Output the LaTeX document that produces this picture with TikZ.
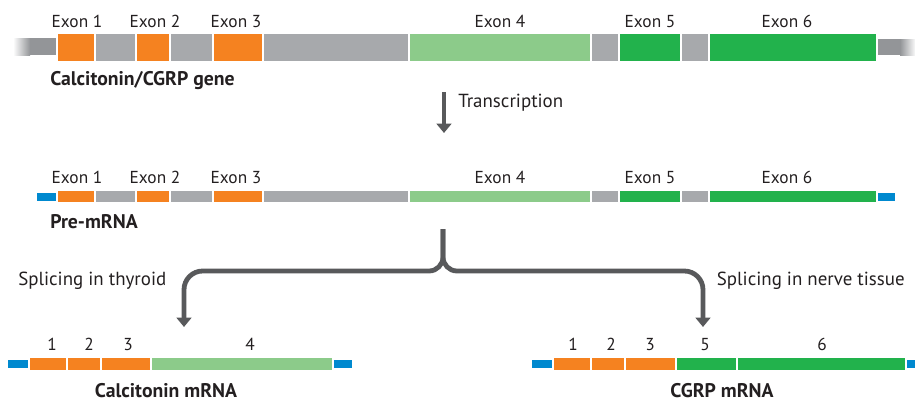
\documentclass[tikz,border=0pt]{standalone}
\usepackage{fontspec}
\setmainfont{PT Sans}
\usepackage{xcolor}
\definecolor{exorange}{HTML}{F58220}
\definecolor{intron}{HTML}{A7A9AC}
\definecolor{palegreen}{HTML}{8CCB8A}
\definecolor{exgreen}{HTML}{22B24C}
\definecolor{utrblue}{HTML}{0089CF}
\definecolor{tailgrey}{HTML}{939598}
\definecolor{ink}{HTML}{231F20}
\definecolor{arrowgrey}{HTML}{58595B}
\usepackage{tikz}
\usetikzlibrary{arrows.meta,positioning}
\tikzset{
  >={Triangle[length=7pt,width=11pt]},
  seg/.style    ={draw=white,line width=0.9pt},
  exlbl/.style  ={font=\fontsize{13}{15}\selectfont,text=ink,inner sep=0pt,anchor=base},
  numlbl/.style ={font=\fontsize{13}{15}\selectfont,text=ink,inner sep=0pt,anchor=base},
  title/.style  ={font=\fontsize{14.8}{17}\selectfont\bfseries,text=ink,inner sep=0pt},
  note/.style   ={font=\fontsize{14.2}{17}\selectfont,text=ink,inner sep=0pt},
  flow/.style   ={->,draw=arrowgrey,line width=3.6pt},
}

\begin{document}
\begin{tikzpicture}[x=0.75pt,y=-0.75pt]
\useasboundingbox (0,0) rectangle (915,404);

% gene
\fill[tailgrey] (30,38) rectangle (57,55);
\shade[left color=white,right color=tailgrey] (13,38) rectangle (30,55);
\fill[tailgrey] (877,39) rectangle (900,55);
\shade[left color=tailgrey,right color=white] (900,39) rectangle (916,55);
\foreach \xa/\xb/\col in {57/95/exorange,95/136/intron,136/170/exorange,170/213/intron,
    213/263/exorange,263/409/intron,409/591/palegreen,591/619/intron,
    619/681/exgreen,681/709/intron,709/877/exgreen}
  \filldraw[seg,fill=\col] (\xa,33) rectangle (\xb,62);
\node[title,anchor=base west] (gene) at (50,85) {Calcitonin/CGRP gene};

% pre-mRNA
\fill[utrblue] (37,193) rectangle (57,201);
\fill[utrblue] (878,193) rectangle (895,201);
\foreach \xa/\xb/\col in {57/95/exorange,95/136/intron,136/170/exorange,170/213/intron,
    213/263/exorange,263/409/intron,409/591/palegreen,591/619/intron,
    619/681/exgreen,681/709/intron,709/877/exgreen}
  \filldraw[seg,fill=\col] (\xa,190) rectangle (\xb,203);
\node[title,anchor=base west] (pre) at (50,228) {Pre-mRNA};

% exon labels
\foreach \n/\xc in {1/77,2/155,3/236,4/500,5/650,6/787} {
  \node[exlbl] (g-ex\n) at (\xc,27) {Exon \n};
  \node[exlbl] (p-ex\n) at (\xc,183) {Exon \n};
}

% transcription
\coordinate (tr-top) at (444,92);
\coordinate (tr-bot) at (444,133);
\draw[flow] (tr-top) -- (tr-bot);
\node[note,anchor=base west] (trans) at (458,107) {Transcription};

% splicing
\coordinate (sp-top) at (443,229);
\coordinate (thy-tip) at (184,327);
\coordinate (ner-tip) at (703,327);
\draw[flow] (sp-top) -- (443,257) to[out=-90,in=0] (429,271) [rounded corners=14pt]
  -- (184,271) -- (thy-tip);
\draw[flow] (sp-top) -- (443,257) to[out=-90,in=180] (457,271) [rounded corners=14pt]
  -- (703,271) -- (ner-tip);
\node[note,anchor=base west] (thy) at (18,285) {Splicing in thyroid};
\node[note,anchor=base east] (ner) at (905,285) {Splicing in nerve tissue};

% calcitonin mRNA
\fill[utrblue] (8,360) rectangle (29,368);
\fill[utrblue] (334,360) rectangle (352,368);
\foreach \xa/\xb/\col in {29/67/exorange,67/101/exorange,101/151/exorange,151/333/palegreen}
  \filldraw[seg,fill=\col] (\xa,357) rectangle (\xb,371);
\foreach \n/\xc in {1/52,2/89,3/128,4/250}
  \node[numlbl] (c-ex\n) at (\xc,350) {\n};
\node[title,anchor=base] (calc) at (166,397) {Calcitonin mRNA};

% CGRP mRNA
\fill[utrblue] (532,360) rectangle (553,368);
\fill[utrblue] (907,360) rectangle (916,368);
\foreach \xa/\xb/\col in {553/591/exorange,591/625/exorange,625/676/exorange,
    676/737/exgreen,737/906/exgreen}
  \filldraw[seg,fill=\col] (\xa,357) rectangle (\xb,371);
\foreach \n/\xc in {1/573,2/611,3/650,5/705,6/822}
  \node[numlbl] (r-ex\n) at (\xc,350) {\n};
\node[title,anchor=base] (cgrp) at (722,397) {CGRP mRNA};
\end{tikzpicture}
\end{document}
